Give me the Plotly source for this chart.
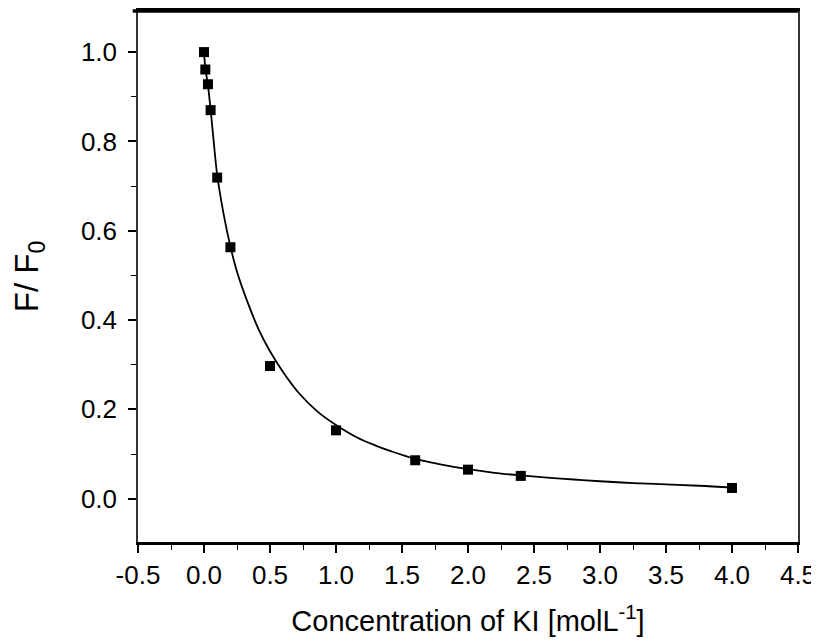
import plotly.graph_objects as go

# Measured data points
conc_ki = [0.0, 0.01, 0.03, 0.05, 0.1, 0.2, 0.5, 1.0, 1.6, 2.0, 2.4, 4.0]
f_over_f0 = [1.0, 0.961, 0.928, 0.870, 0.719, 0.563, 0.297, 0.153, 0.086, 0.065, 0.051, 0.024]

# Fitted curve
fit_x = [0.0, 0.01, 0.03, 0.05, 0.075, 0.1, 0.15, 0.2, 0.25, 0.33, 0.42, 0.5, 0.6,
         0.72, 0.86, 1.0, 1.16, 1.3, 1.42, 1.6, 1.77, 2.0, 2.2, 2.4, 2.6, 2.8, 3.0,
         3.25, 3.5, 3.75, 4.0]
fit_y = [1.0, 0.965, 0.925, 0.872, 0.795, 0.725, 0.635, 0.565, 0.508, 0.44, 0.375,
         0.33, 0.283, 0.236, 0.195, 0.165, 0.137, 0.119, 0.106, 0.089, 0.078, 0.066,
         0.058, 0.052, 0.047, 0.043, 0.039, 0.035, 0.032, 0.029, 0.025]

# Tick labels
x_tick_vals = [-0.5, 0.0, 0.5, 1.0, 1.5, 2.0, 2.5, 3.0, 3.5, 4.0, 4.5]
x_tick_text = ["-0.5", "0.0", "0.5", "1.0", "1.5", "2.0", "2.5", "3.0", "3.5", "4.0", "4.5"]
x_minor_vals = [-0.25, 0.25, 0.75, 1.25, 1.75, 2.25, 2.75, 3.25, 3.75, 4.25]
y_tick_vals = [0.0, 0.2, 0.4, 0.6, 0.8, 1.0]
y_tick_text = ["0.0", "0.2", "0.4", "0.6", "0.8", "1.0"]
y_minor_vals = [-0.1, 0.1, 0.3, 0.5, 0.7, 0.9, 1.1]

FONT = "Liberation Sans, Arial, sans-serif"

fig = go.Figure()
fig.add_trace(go.Scatter(x=fit_x, y=fit_y, mode="lines", line_shape="spline",
                         line=dict(color="black", width=1.8), showlegend=False))
fig.add_trace(go.Scatter(x=conc_ki, y=f_over_f0, mode="markers",
                         marker=dict(symbol="square", size=10, color="black"),
                         showlegend=False))

# thick top frame line (frame, not data)
fig.add_shape(type="line", xref="paper", yref="paper", x0=-0.008, x1=1.0, y0=1.0, y1=1.0,
              line=dict(color="black", width=3.5), layer="above")

# page body has an 8px margin, so the figure is 811x634 placed at (8, 8)
fig.update_layout(
    width=811, height=634,
    margin=dict(l=130, r=21, t=3, b=99.5),
    paper_bgcolor="white", plot_bgcolor="white",
    font=dict(family=FONT, color="black"),
    xaxis=dict(
        range=[-0.5, 4.5], tickvals=x_tick_vals, ticktext=x_tick_text,
        automargin=False,
        showline=True, linewidth=3, linecolor="black", mirror=True,
        ticks="outside", ticklen=8, tickwidth=1.5, tickcolor="black",
        minor=dict(ticks="outside", ticklen=5, tickwidth=1.2, tickcolor="black",
                   tickvals=x_minor_vals),
        showgrid=False, zeroline=False,
        tickfont=dict(size=26, family=FONT),
        title=dict(text="Concentration of KI [molL<sup>-1</sup>]",
                   font=dict(size=29, family=FONT), standoff=22),
    ),
    yaxis=dict(
        range=[-0.097, 1.092], tickvals=y_tick_vals, ticktext=y_tick_text,
        automargin=False,
        showline=True, linewidth=1.5, linecolor="#333333", mirror=True,
        ticks="outside", ticklen=8, tickwidth=1.5, tickcolor="black",
        minor=dict(ticks="outside", ticklen=5, tickwidth=1.2, tickcolor="black",
                   tickvals=y_minor_vals),
        showgrid=False, zeroline=False,
        tickfont=dict(size=26, family=FONT),
        ticklabelstandoff=6,
        title=dict(text="F/ F<sub>0</sub>", font=dict(size=33, family=FONT), standoff=38),
    ),
)

fig.write_html("out.html")
